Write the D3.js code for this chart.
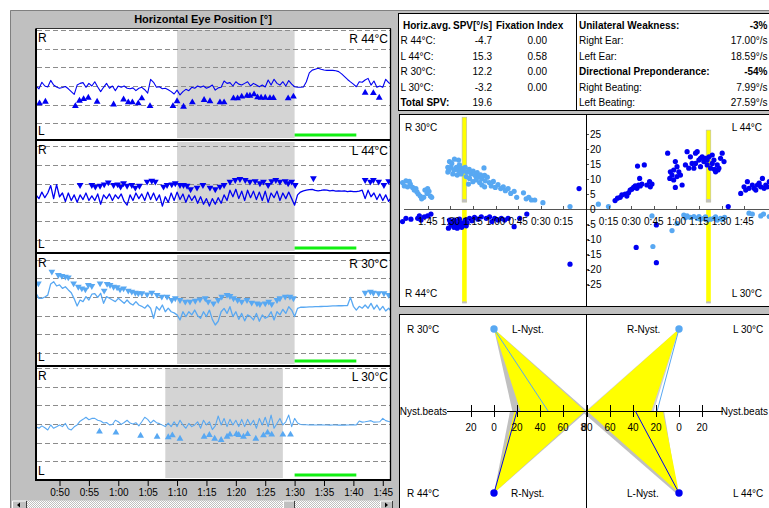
<!DOCTYPE html>
<html><head><meta charset="utf-8">
<script src="https://cdn.jsdelivr.net/npm/d3@7"></script>
<style>
body{margin:0;background:#fff;overflow:hidden}
svg{display:block;font-family:"Liberation Sans",Arial,sans-serif}
</style></head><body>
<svg id="c" width="769" height="508"></svg>
<script>
// ---------------- DATA ----------------
const chartTitle = "Horizontal Eye Position [°]";
const panelLabels = ["R 44°C", "L 44°C", "R 30°C", "L 30°C"];
const timeStart = 46, timeStep = 0.5;            // trace sampling (s)
const timeTicks = [50,55,60,65,70,75,80,85,90,95,100,105];
const yTicks = [30,20,10,0,-10,-20,-30];
const shadeWindows = [[70,90],[70,90],[70,90],[68,88]];   // culmination window
const heatWindows  = [[90,100.5],[90,100.5],[90,100.5],[90,100.5]]; // green bar

const traceR44 = [0,-1.5,2.0,0,-0.5,3.0,0.5,-0.5,-1.2,-0.8,
 -0.3,-1.5,-3.0,-4.5,0.5,1.4,1.8,-0.7,1.4,0,
 2.3,-0.5,-3.0,-0.7,1.4,-1.2,0,-2.5,0,-0.7,
 0,-1.2,-1.5,-1.0,-2.5,-1.2,-0.7,-2.0,-3.8,3.6,
 2.0,-0.7,-0.4,-1.5,-1.2,-2.0,-3.0,-4.3,-2.2,-4.8,
 -3.0,-1.8,-2.5,-0.7,-1.2,0,-0.7,0,-1.2,-0.5,
 0.5,-2.2,-1.0,-0.7,2.7,1.4,1.8,0,2.3,1.0,
 0.5,1.4,2.3,0,1.4,0.5,-0.4,0.5,-0.5,3.2,
 0.5,3.6,1.4,0.5,2.3,0,2.9,1.0,-0.4,-0.7,
 -0.7,-0.5,2.3,7.0,8.5,9.0,9.5,9.0,8.6,8.4,
 8.4,8.4,8.2,7.7,6.5,5.0,3.5,2.2,1.0,-0.4,
 2.3,2.0,3.2,4.1,0.5,2.7,-0.7,0,-0.7,3.6,
 1.8,1.0];
const traceL44 = [-6,-8,-4.5,-7.5,-5,-1,-8,-0.5,-7,-5,
 -9.5,-5,-9,-6,-10,-6,-8.5,-5,-9,-6.5,
 -9,-5.5,-11,-6,-8,-5.5,-9,-6,-8,-5.5,
 -9.5,-11.5,-6,-9,-5,-8,-5.5,-9,-4.5,-8.5,
 -5,-9,-6,-12,-7,-10,-5,-9,-4.5,-8.5,
 -5.5,-10,-6,-9,-6.5,-10.5,-7,-11,-8,-12,
 -8,-11,-7.5,-10.5,-6,-9,-3.5,-7,-3,-8,
 -4,-9,-3.5,-7.5,-4,-8.5,-4.5,-9,-4,-10,
 -5,-7.5,-4,-9,-5,-8,-4.5,-8,-11.5,-6,
 -4.5,-3.8,-3.5,-3.2,-3.0,-3.6,-3.8,-3.6,-3.3,-3.5,
 -3.8,-3.6,-4.0,-3.8,-4.0,-3.9,-4.2,-4.0,-4.3,-4.2,
 -4.0,-3.5,-8,-3.5,-7,-5,-8.5,-5.5,-9,-6,
 -9.5,-7];
const traceR30 = [2,-0.7,-0.7,0,1,7,8.2,5.9,6.5,4.6,
 5.5,3.8,2.3,-1,-4.8,-1.6,-2.5,0.2,-1.6,1.5,
 1.8,-0.2,2.0,-3.4,0.2,-0.7,-1.6,-2.5,-0.7,-2.0,
 -3.4,-1.6,-3.4,-4.3,-2.5,-4.3,-5.0,-6.0,-4.3,-6.0,
 -11.4,-5.2,-7.0,-4.3,-7.9,-6.0,-7.9,-8.5,-9.6,-12.3,
 -7.9,-10.5,-7.9,-9.6,-7.0,-10.0,-11.4,-7.9,-10.5,-7.0,
 -12.0,-15.0,-13.0,-7.9,-6.1,-8.8,-5.2,-10.5,-7.9,-12.0,
 -8.8,-12.8,-9.6,-10.5,-12.3,-8.8,-13.0,-9.6,-11.4,-10.5,
 -7.9,-12.3,-7.9,-9.6,-6.6,-8.8,-5.2,-7.0,-10.5,-6.1,
 -5.5,-5.5,-5.4,-5.3,-5.3,-5.2,-5.2,-5.1,-5.0,-5.0,
 -4.9,-4.8,-4.8,-4.7,-4.7,-4.6,-4.6,-0.2,-5.0,-7.0,
 -5.0,-6.0,-4.3,-6.0,-3.4,-6.5,-4.3,-7.0,-5.0,-7.5,
 -6.0,-8.0];
const traceL30 = [-1.4,-2.3,-1.0,-2.0,-3.2,-0.5,-2.3,-1.5,-0.5,-1.4,
 0.3,-2.5,-3.2,-1.5,-0.5,1.5,2.5,3.6,2.3,3.0,
 3.0,2.0,1.6,0.5,0.8,-0.5,-0.3,2.0,1.2,-0.2,
 0.8,2.0,0.5,0,0.7,-1.0,1.2,3.6,2.5,0.5,
 2.0,0.7,0.2,-0.6,-1.4,0.5,-1.4,1.2,-1.4,2.0,
 -0.5,-2.3,0.3,-1.4,-0.5,1.2,-2.3,2.0,-0.5,1.2,
 -3.0,-1.0,4.3,-0.5,3.0,-1.4,2.5,-0.5,2.0,-1.4,
 2.5,-1.4,2.5,-0.5,2.0,-2.3,3.0,-0.5,3.6,-1.4,
 4.8,-2.3,0.3,3.0,-0.5,1.2,4.8,-1.4,3.0,0.5,
 -0.3,-0.4,-0.4,-0.5,-0.4,-0.5,-0.5,-0.4,-0.5,-0.5,
 -0.6,-0.5,-0.5,-0.6,-0.5,-0.6,-0.5,-0.5,-0.4,-0.5,
 1.6,1.0,1.2,1.5,1.8,1.0,1.1,1.2,3.0,1.8,
 1.3,1.0];

// nystagmus beat markers [time s, value °]
const beatsR44 = [[46.6,-9.3],[47.6,-8.4],[52.7,-10.8],[53.4,-7.9],[54.1,-7.0],[54.9,-6.3],[56.4,-8.4],[59.2,-9.9],[60.9,-7.2],[61.7,-8.8],[62.4,-8.8],[63.4,-9.3],[64.0,-6.6],[65.4,-10.8],[69.3,-10.8],[70.0,-8.2],[71.1,-11.1],[72.6,-8.8],[74.6,-7.5],[75.6,-8.2],[77.3,-8.8],[78.0,-8.8],[79.6,-6.6],[80.3,-6.6],[81.0,-5.7],[81.9,-5.2],[82.4,-5.2],[83.1,-4.5],[83.7,-6.1],[84.3,-6.3],[85.0,-6.3],[85.8,-6.5],[86.4,-6.5],[88.9,-6.6],[89.8,-5.7],[102.0,-3.6],[103.4,-3.8],[104.4,-6.3]];
const beatsL44 = [[53.5,-0.7],[55.5,-0.7],[56.1,-1.6],[56.9,-1.1],[57.6,-0.4],[58.3,0.7],[59.2,-0.7],[59.9,-0.4],[60.4,-1.6],[60.9,0.2],[61.5,-1.1],[62.3,-0.7],[62.9,-2.1],[63.6,-1.1],[64.9,1.1],[65.7,1.6],[66.3,1.1],[67.7,-1.6],[68.3,-0.7],[69.1,-0.4],[69.7,0.2],[70.5,-0.7],[71.1,-0.7],[71.7,-1.1],[72.3,-3.0],[73.4,-2.1],[74.4,-0.7],[75.6,-2.1],[76.5,-3.0],[77.3,-1.6],[78.0,-0.7],[79.0,1.1],[79.9,2.0],[80.7,2.5],[81.6,2.0],[82.4,1.1],[83.3,1.4],[84.1,0.2],[84.7,1.1],[85.5,-0.7],[86.1,1.4],[86.8,2.0],[87.5,1.1],[88.4,1.4],[88.9,0.2],[89.5,1.1],[90.1,-0.7],[93.2,2.9],[102.0,2.0],[102.9,1.1],[103.4,2.0],[104.3,1.1],[105.2,-0.7],[106.0,1.4]];
const beatsR30 = [[46.4,7.3],[48.7,13.6],[49.8,11.8],[50.4,11.3],[51.0,10.9],[51.5,10.5],[52.4,7.3],[53.2,5.5],[53.8,4.6],[54.4,4.1],[54.9,6.4],[55.5,5.9],[56.9,7.3],[57.6,3.4],[58.1,7.0],[58.6,6.4],[59.2,5.5],[59.8,5.2],[60.3,4.1],[60.9,4.6],[61.7,3.4],[62.3,2.9],[62.9,2.3],[63.4,2.0],[64.0,2.0],[64.9,1.4],[65.7,2.3],[66.6,1.1],[67.4,0.2],[68.3,0.2],[69.1,-1.6],[69.7,-0.7],[70.5,-1.6],[71.4,-2.5],[72.2,-2.5],[73.1,-2.0],[73.9,-1.3],[74.8,-0.7],[75.3,-2.5],[76.2,-3.4],[77.0,-1.6],[77.6,0.2],[78.5,1.1],[79.0,0.5],[79.6,-0.7],[80.3,-1.6],[81.0,-2.5],[81.9,-1.6],[82.7,-3.0],[83.6,-3.4],[84.1,-3.8],[85.0,-3.4],[85.6,-2.5],[86.1,-3.8],[87.0,-1.6],[87.5,-0.7],[88.4,0.2],[89.2,0.2],[89.8,-0.7],[102.0,2.3],[102.9,2.9],[103.4,2.3],[104.3,2.0],[105.2,2.0],[106.0,1.1]];
const beatsL30 = [[56.8,-4.1],[59.6,-4.6],[63.8,-6.3],[66.6,-6.8],[68.5,-7.1],[69.2,-6.1],[70.5,-7.9],[74.6,-6.8],[75.5,-5.9],[76.4,-7.9],[77.5,-8.6],[78.5,-6.8],[79.0,-5.7],[80.1,-5.4],[80.5,-5.9],[81.3,-6.8],[82.0,-5.4],[83.4,-7.9],[84.7,-6.1],[85.4,-4.6],[86.1,-5.7],[88.0,-5.7],[89.3,-5.7]];

// table
const tableHeader = ["Horiz.avg.", "SPV[°/s]", "Fixation Index"];
const tableRows = ["R 44°C:", "L 44°C:", "R 30°C:", "L 30°C:"];
const spvValues = [-4.7, 15.3, 12.2, -3.2];
const fixationIndex = [0.00, 0.58, 0.00, 0.00];
const totalSPV = 19.6;
const summaryLabels = ["Unilateral Weakness:", "Right Ear:", "Left Ear:", "Directional Preponderance:", "Right Beating:", "Left Beating:"];
const summaryValues = ["-3%", "17.00°/s", "18.59°/s", "-54%", "7.99°/s", "27.59°/s"];
const summaryBold = [true, false, false, true, false, false];

// SPV scatter [time since start s, SPV °/s]
const spvR30 = [[121.8,8.9],[119.5,9.5],[117.3,9.3],[116.6,8.4],[120.6,7.8],[118.4,7.5],[115.1,7.3],[114,6.4],[112.2,5.8],[111.3,5.1],[110,4.4],[109.1,3.5],[107.7,4.0],[106.9,6.4],[105.1,6.9],[104.2,6.0],[105.5,5.3],[103.3,4.4],[102.4,4.0],[112.9,6.9],
 [90.6,15.9],[87.3,16.7],[84.6,16.4],[91.3,12.9],[89.5,14.0],[87.7,13.1],[86.0,14.0],[84.6,12.9],[82.9,13.7],[81.5,12.7],[80.2,14.0],[78.9,12.4],[77.5,13.3],[76.2,11.8],[74.9,12.7],[73.5,11.3],[72.2,12.2],[71.3,10.7],[70.0,11.5],[69.1,10.2],[67.7,13.8],[67.3,11.3],[66.9,9.5],[65.5,10.7],[64.2,8.9],[62.9,7.8],[61.5,9.3],[60.2,7.3],[58.4,8.2],[56.6,6.9],[54.9,7.5],[53.5,6.2],[51.7,6.9],[50.0,5.3],[47.7,6.0],[46.0,4.0],[41.5,5.5],[39.7,3.5],[38.0,4.0],[36.2,3.1],[34.0,3.1],[28.6,2.2],[10.6,0.9],
 [88.4,11.8],[85.5,11.4],[82.9,11.8],[79.5,10.9],[77.3,10.3],[75.1,9.2],[78.0,8.4],[72.9,9.8],[70.6,8.9],[69.1,8.1],[67.3,7.5],[91.7,14.0],[91.7,12.4],[89.1,15.3],[84.0,14.8]];
const spvR44 = [[121.8,-4.1],[119.5,-3.0],[116.2,-3.3],[111.7,-3.0],[109.5,-3.6],[107.3,-2.5],[105.1,-2.2],[102.9,-1.6],[110.6,-2.2],[91.3,-6.3],[89.5,-5.2],[87.7,-6.0],[86.2,-4.7],[84.6,-5.8],[83.3,-4.5],[81.7,-5.2],[80.2,-3.6],[78.9,-4.5],[77.3,-3.0],[75.7,-3.8],[74,-2.7],[71.7,-3.3],[69.5,-2.5],[66.2,-3.0],[64,-2.5],[62.4,-4.1],[60.6,-3.0],[58.4,-3.6],[56.2,-3.0],[54,-3.6],[51.7,-3.0],[47.7,-5.8],[44,-3.0],[39.3,-1.6],[90.6,-3.6],[87.3,-3.6],[84,-3.3],[88.5,-5.0],[85.5,-6.3],[82.5,-6.0],[80.9,-4.4],[79.5,-5.5],[86.9,-4.2],[90.0,-4.6],[4.6,6.9],[10.6,-18.3]];
const spvL44 = [[19.3,2.9],[20.9,3.7],[22.7,4.0],[23.8,4.8],[26,5.1],[27.1,4.4],[28.2,5.5],[29.3,6.4],[30.4,6.7],[31.6,7.3],[32.7,7.8],[33.8,7.0],[34.9,8.1],[36,7.8],[37.1,8.4],[34.2,14.4],[38.7,14.8],[35.6,10.3],[40.4,8.1],[42.2,9.2],[43.8,8.4],[42.7,7.5],
 [54.2,18.7],[59.3,15.9],[56,12.5],[57.1,11.4],[58.2,13.1],[60.4,14.2],[61.6,12.5],[62.7,11.4],[59.3,7.3],[63.8,8.1],[55.6,10.3],[60.4,10.9],[58.2,9.8],
 [66,14.8],[67.1,19.2],[69.3,17.5],[70.4,15.3],[71.6,13.7],[72.7,18.7],[73.8,19.2],[74.9,16.4],[76,14.2],[77.1,17.5],[78.2,15.9],[79.3,17],[80.4,14.8],[81.6,17.5],[82.7,13.7],[83.8,15.3],[84.9,16.4],[86,12.5],[87.1,14.8],[88.2,13.7],[89.3,17],[90.4,18.7],[91.6,15.9],[68.2,13.7],[72.7,15.3],[76,17],[83.8,18.1],[85.3,13.3],[87.6,13.1],[80.4,16.4],
 [94.4,0.9],
 [102.7,5.3],[104.9,7.5],[107.1,9.2],[108.2,7.0],[110.4,8.1],[112.7,6.4],[114.9,8.7],[117.1,10.3],[119.3,8.1],[121.6,9.2],[106,6.4],[111.6,7.0],[118.2,7.0],[116,7.5],[120.4,7.5],[113.8,8.1],
 [33.3,-12.7],[46.7,-5.2],[46.7,-17.8]];
const spvL30 = [[8.2,1.7],[14.9,0.9],[43.8,-2.2],[44.4,-12.4],[57.1,-7.1],[60.4,-4.7],[64.9,-1.9],[67.1,-2.2],[69.3,-2.7],[71.6,-2.4],[73.8,-3.0],[76,-3.3],[78.2,-3.0],[80.4,-3.6],[82.7,-3.3],[84.9,-3.0],[87.1,-3.6],[89.3,-3.0],[92,-2.7],[108.2,-1.3],[110.4,-1.6],[116,-2.2],[117.8,-1.6],[121.6,-2.4],[66,-2.8],[75,-2.4],[79.3,-2.5],[86,-2.5],[90.5,-3.4]];
const scatterTimeTicks = [15,30,45,60,75,90,105];
const scatterValueTicks = [25,20,15,10,5,0,-5,-10,-15,-20,-25];
const culminationR = {t: 80.7, upper: [2.4, 30.7], lower: [-31.2, 0]};
const culminationL = {t: 81.3, upper: [2.4, 26.4], lower: [-31.2, 0]};

// butterfly (Nyst. beats)
const bfTicks = [-20, 0, 20, 40, 60, 80];
const bfValues = {R30: 47, R44: 20, L30: 19, L44: 38};
const bfNormYellow = {LT: [23, 79], LB: [18, 79], RT: [24, 80], RB: [14, 80]};
const bfNormGray   = {LT: [16, 81], LB: [14, 81], RT: [22, 81], RB: [13, 83]};

// ---------------- DRAW ----------------
const C_DARK = "#0000f2", C_LIGHT = "#58a8f2", FRAME = "#c0c0c0";
const svg = d3.select("#c");
svg.append("rect").attr("width", 769).attr("height", 508).attr("fill", "#fff");
svg.append("rect").attr("x", 10).attr("y", 10).attr("width", 759).attr("height", 498).attr("fill", FRAME);
svg.append("path").attr("d", "M10.5,508V10.5H769").attr("stroke", "#808080").attr("fill", "none");
const defs = svg.append("defs");

svg.append("text").attr("x", 203).attr("y", 23).attr("text-anchor", "middle")
  .attr("font-size", 11).attr("font-weight", "bold").text(chartTitle);

const fmtTime = t => Math.floor(t / 60) + ":" + String(Math.round(t % 60)).padStart(2, "0");
const x = d3.scaleLinear().domain([46, 106.4]).range([36, 391]);
const layout = [
  {top: 29, bottom: 139, zero: 86},
  {top: 141, bottom: 252, zero: 183.7},
  {top: 254, bottom: 365, zero: 297},
  {top: 367, bottom: 479, zero: 424}];
const K = 1.865;
const panels = [
  {trace: traceR44, beats: beatsR44, color: C_DARK, up: true},
  {trace: traceL44, beats: beatsL44, color: C_DARK, up: false},
  {trace: traceR30, beats: beatsR30, color: C_LIGHT, up: false},
  {trace: traceL30, beats: beatsL30, color: C_LIGHT, up: true}];
const tri = d3.symbol().type(d3.symbolTriangle).size(20);

panels.forEach((p, i) => {
  const L = layout[i];
  const y = d3.scaleLinear().domain([(L.zero - L.top) / K, (L.zero - L.bottom) / K]).range([L.top, L.bottom]);
  const cid = "clip" + i;
  defs.append("clipPath").attr("id", cid).append("rect")
    .attr("x", 36).attr("y", L.top).attr("width", 355).attr("height", L.bottom - L.top);
  defs.append("clipPath").attr("id", cid + "a").append("rect")
    .attr("x", 0).attr("y", L.top - 0.5).attr("width", 40).attr("height", L.bottom - L.top + 1);
  const g = svg.append("g");
  g.append("rect").attr("x", 36).attr("y", L.top).attr("width", 355).attr("height", L.bottom - L.top).attr("fill", "#fff");
  const c = g.append("g").attr("clip-path", `url(#${cid})`);
  const sw = shadeWindows[i];
  c.append("rect").attr("x", x(sw[0])).attr("y", L.top + 1).attr("width", x(sw[1]) - x(sw[0]))
    .attr("height", L.bottom - L.top - 2).attr("fill", "#d4d4d4");
  const ticks = yTicks.filter(v => y(v) >= L.top - 2 && y(v) <= L.bottom);
  c.selectAll(".grid").data(ticks).join("line")
    .attr("x1", 37).attr("x2", 391).attr("y1", d => Math.round(y(d)) + 0.5).attr("y2", d => Math.round(y(d)) + 0.5)
    .attr("stroke", "#8c8c8c").attr("stroke-dasharray", "5,3");
  const hw = heatWindows[i];
  c.append("rect").attr("x", x(hw[0])).attr("y", L.bottom - 5.5).attr("width", x(hw[1]) - x(hw[0]))
    .attr("height", 3).attr("fill", "#12f012");
  const line = d3.line().x((d, j) => x(timeStart + j * timeStep)).y(d => y(d));
  c.append("path").attr("d", line(p.trace)).attr("fill", "none").attr("stroke", p.color)
    .attr("stroke-width", (i === 1 || i === 2) ? 1.3 : 1.1).attr("stroke-linejoin", "round");
  c.selectAll(".beat").data(p.beats).join("path")
    .attr("d", tri)
    .attr("transform", d => `translate(${x(d[0])},${y(d[1])})${p.up ? "" : " rotate(180)"}`)
    .attr("fill", p.color);
  // labels
  g.append("text").attr("x", 38).attr("y", L.top + 12.5).attr("font-size", 12).text("R");
  g.append("text").attr("x", 38).attr("y", L.bottom - 4).attr("font-size", 12).text("L");
  g.append("text").attr("x", 388).attr("y", L.top + 13.5).attr("font-size", 12).attr("text-anchor", "end").text(panelLabels[i]);
  // y axis
  const ax = g.append("g").attr("clip-path", `url(#${cid}a)`).attr("transform", "translate(35,0)")
    .call(d3.axisLeft(y).tickValues(ticks).tickSize(4).tickPadding(2));
  ax.select(".domain").remove();
  ax.selectAll("text").attr("font-size", 10.5).attr("font-family", "Liberation Sans, Arial, sans-serif").attr("fill", "#000");
  ax.selectAll("line").attr("stroke", "#000");
});
// panel borders
svg.append("line").attr("x1", 36).attr("x2", 391).attr("y1", 28.5).attr("y2", 28.5).attr("stroke", "#303030");
[139, 252, 365, 479].forEach(yy => svg.append("rect").attr("x", 35).attr("y", yy).attr("width", 356).attr("height", 2).attr("fill", "#000"));
svg.append("rect").attr("x", 35).attr("y", 28.5).attr("width", 2).attr("height", 452.5).attr("fill", "#000");
svg.append("line").attr("x1", 390.5).attr("x2", 390.5).attr("y1", 28.5).attr("y2", 481).attr("stroke", "#000").attr("stroke-width", 1.3);
// x axis
const xa = svg.append("g").attr("transform", "translate(0,481)")
  .call(d3.axisBottom(x).tickValues(timeTicks).tickSize(5).tickPadding(3).tickFormat(fmtTime));
xa.select(".domain").remove();
xa.selectAll("text").attr("font-size", 10).attr("font-family", "Liberation Sans, Arial, sans-serif").attr("fill", "#000");
xa.selectAll("line").attr("stroke", "#000");

// scrollbar
const pat = defs.append("pattern").attr("id", "chk").attr("width", 2).attr("height", 2).attr("patternUnits", "userSpaceOnUse");
pat.append("rect").attr("width", 2).attr("height", 2).attr("fill", "#fff");
pat.append("rect").attr("width", 1).attr("height", 1).attr("fill", "#c0c0c0");
pat.append("rect").attr("x", 1).attr("y", 1).attr("width", 1).attr("height", 1).attr("fill", "#c0c0c0");
svg.append("rect").attr("x", 27).attr("y", 500.5).attr("width", 353).attr("height", 8).attr("fill", "url(#chk)");
function btn(x0, w) {
  svg.append("rect").attr("x", x0).attr("y", 500.5).attr("width", w).attr("height", 9).attr("fill", FRAME);
  svg.append("path").attr("d", `M${x0 + 0.5},509V501H${x0 + w - 0.5}`).attr("stroke", "#fff").attr("fill", "none");
  svg.append("path").attr("d", `M${x0 + w - 0.5},501V509`).attr("stroke", "#404040").attr("fill", "none");
}
btn(12, 15); btn(283, 12); btn(380, 13);
svg.append("path").attr("d", "M17,505L20,502.5V507.5Z").attr("fill", "#000");
svg.append("path").attr("d", "M388,505L385,502.5V507.5Z").attr("fill", "#000");

// ---------- table ----------
const T = svg.append("g").attr("font-size", 10);
T.append("rect").attr("x", 398.5).attr("y", 13.5).attr("width", 380).attr("height", 97).attr("fill", "#fff").attr("stroke", "#000");
T.append("line").attr("x1", 576.5).attr("x2", 576.5).attr("y1", 13.5).attr("y2", 110.5).attr("stroke", "#000");
const rowY = [29, 44, 59.5, 75, 90.5, 106];
T.append("text").attr("x", 403).attr("y", rowY[0]).attr("font-weight", "bold").text(tableHeader[0]);
T.append("text").attr("x", 453).attr("y", rowY[0]).attr("font-weight", "bold").text(tableHeader[1]);
T.append("text").attr("x", 496).attr("y", rowY[0]).attr("font-weight", "bold").text(tableHeader[2]);
tableRows.forEach((r, i) => {
  T.append("text").attr("x", 400.5).attr("y", rowY[i + 1]).text(r);
  T.append("text").attr("x", 492).attr("y", rowY[i + 1]).attr("text-anchor", "end").text(spvValues[i].toFixed(1));
  T.append("text").attr("x", 547).attr("y", rowY[i + 1]).attr("text-anchor", "end").text(fixationIndex[i].toFixed(2));
});
T.append("text").attr("x", 400.5).attr("y", rowY[5]).attr("font-weight", "bold").text("Total SPV:");
T.append("text").attr("x", 492).attr("y", rowY[5]).attr("text-anchor", "end").text(totalSPV.toFixed(1));
summaryLabels.forEach((s, i) => {
  T.append("text").attr("x", 579).attr("y", rowY[i]).attr("font-weight", summaryBold[i] ? "bold" : "normal").text(s);
  T.append("text").attr("x", 767.5).attr("y", rowY[i]).attr("text-anchor", "end").attr("font-weight", summaryBold[i] ? "bold" : "normal").text(summaryValues[i]);
});

// ---------- SPV scatter ----------
const S = svg.append("g");
S.append("rect").attr("x", 399.5).attr("y", 114.5).attr("width", 380).attr("height", 192).attr("fill", "#fff").attr("stroke", "#000");
defs.append("clipPath").attr("id", "sclip").append("rect").attr("x", 400).attr("y", 115).attr("width", 369).attr("height", 191);
const sc = S.append("g").attr("clip-path", "url(#sclip)");
const xL = d3.scaleLinear().domain([0, 120]).range([586, 586 - 180.8]);
const xR = d3.scaleLinear().domain([0, 120]).range([586, 586 + 180.8]);
const yS = d3.scaleLinear().domain([0, 25]).range([209.3, 134.3]);
function culm(scale, cm) {
  const w = 4.6;
  sc.append("rect").attr("x", scale(cm.t) - w / 2).attr("y", yS(cm.upper[1])).attr("width", w)
    .attr("height", yS(cm.upper[0]) - yS(cm.upper[1])).attr("fill", "#ffff00").attr("stroke", "#b8b8b8").attr("stroke-width", 0.6);
  sc.append("rect").attr("x", scale(cm.t) - w / 2).attr("y", yS(cm.lower[1])).attr("width", w)
    .attr("height", yS(cm.lower[0]) - yS(cm.lower[1])).attr("fill", "#ffff00");
  sc.append("rect").attr("x", scale(cm.t) - w / 2).attr("y", yS(cm.upper[0]) - 3).attr("width", w).attr("height", 3).attr("fill", "#c0c0c0");
  sc.append("rect").attr("x", scale(cm.t) - w / 2).attr("y", yS(cm.lower[0]) - 1.5).attr("width", w).attr("height", 2).attr("fill", "#c0c0c0");
}
culm(xL, culminationR);
culm(xR, culminationL);
sc.append("line").attr("x1", 404).attr("x2", 769).attr("y1", 209.5).attr("y2", 209.5).attr("stroke", "#555");
const dots = (data, scale, color) => sc.append("g").selectAll("circle").data(data).join("circle")
  .attr("cx", d => scale(d[0])).attr("cy", d => yS(d[1])).attr("r", 2.6).attr("fill", color);
dots(spvR30, xL, C_LIGHT);
dots(spvL30, xR, C_LIGHT);
dots(spvR44, xL, C_DARK);
dots(spvL44, xR, C_DARK);
[xL, xR].forEach(scale => {
  sc.selectAll(null).data(scatterTimeTicks).join("line")
    .attr("x1", d => Math.round(scale(d)) + 0.5).attr("x2", d => Math.round(scale(d)) + 0.5)
    .attr("y1", 206).attr("y2", 209.5).attr("stroke", "#555");
  sc.selectAll(null).data(scatterTimeTicks).join("text")
    .attr("x", d => scale(d)).attr("y", 225).attr("text-anchor", "middle").attr("font-size", 10)
    .text(d => fmtTime(d));
});
sc.selectAll(null).data(scatterValueTicks).join("line")
  .attr("x1", 586).attr("x2", 589).attr("y1", d => Math.round(yS(d)) + 0.5).attr("y2", d => Math.round(yS(d)) + 0.5).attr("stroke", "#555");
sc.selectAll(null).data(scatterValueTicks).join("text")
  .attr("x", d => d < 0 ? 587 : 590).attr("y", d => yS(d) + 3.5).attr("font-size", 10)
  .text(d => d < 0 ? "-" + Math.abs(d) : d);
S.append("line").attr("x1", 586.5).attr("x2", 586.5).attr("y1", 114.5).attr("y2", 306.5).attr("stroke", "#000");
S.append("text").attr("x", 405).attr("y", 131).attr("font-size", 10).text(panelLabels[2]);
S.append("text").attr("x", 405).attr("y", 297).attr("font-size", 10).text(panelLabels[0]);
S.append("text").attr("x", 762).attr("y", 131).attr("font-size", 10).attr("text-anchor", "end").text(panelLabels[1]);
S.append("text").attr("x", 762).attr("y", 297).attr("font-size", 10).attr("text-anchor", "end").text(panelLabels[3]);

// ---------- butterfly ----------
const B = svg.append("g");
B.append("rect").attr("x", 399.5).attr("y", 314.5).attr("width", 380).attr("height", 200).attr("fill", "#fff").attr("stroke", "#000");
defs.append("clipPath").attr("id", "bclip").append("rect").attr("x", 400).attr("y", 315).attr("width", 369).attr("height", 193);
defs.append("clipPath").attr("id", "bclipL").append("rect").attr("x", 400).attr("y", 315).attr("width", 186).attr("height", 193);
const bc = B.append("g").attr("clip-path", "url(#bclip)");
const bcL = B.append("g").attr("clip-path", "url(#bclipL)");
const bL = d3.scaleLinear().domain([0, 80]).range([494, 586]);
const bR = d3.scaleLinear().domain([0, 80]).range([679, 587]);
const axY = 411, topY = 329, botY = 493;
function tri3(scale, py, rng, dy) {
  return [[scale(0), py], [scale(rng[0]), axY + (dy || 0)], [scale(rng[1]), axY + (dy || 0)]];
}
const poly = (pts, fill) => bc.append("path").attr("d", "M" + pts.map(p => p.join(",")).join("L") + "Z").attr("fill", fill);
poly(tri3(bL, topY, bfNormGray.LT), "#c0c0c0");
poly(tri3(bL, botY, bfNormGray.LB), "#c0c0c0");
poly(tri3(bR, topY, bfNormGray.RT), "#d0d0d0");
poly([[bR(0) - 1, botY + 2], [bR(bfNormGray.RB[0]), axY], [bR(bfNormGray.RB[1]), axY + 2]], "#c0c0c0");
poly(tri3(bL, topY, bfNormYellow.LT), "#ffff00");
poly(tri3(bL, botY, bfNormYellow.LB), "#ffff00");
poly(tri3(bR, topY, bfNormYellow.RT), "#ffff00");
poly(tri3(bR, botY, bfNormYellow.RB), "#ffff00");
// axes
bc.append("line").attr("x1", 447).attr("x2", 586).attr("y1", axY + 0.5).attr("y2", axY + 0.5).attr("stroke", "#000");
bc.append("line").attr("x1", 586).attr("x2", 723).attr("y1", axY + 0.5).attr("y2", axY + 0.5).attr("stroke", "#000");
[[bL, bcL], [bR, bc]].forEach(([scale, grp]) => {
  grp.selectAll(null).data(bfTicks).join("line")
    .attr("x1", d => Math.round(scale(d)) + 0.5).attr("x2", d => Math.round(scale(d)) + 0.5)
    .attr("y1", axY - 6).attr("y2", axY + 6).attr("stroke", "#000");
  grp.selectAll(null).data(bfTicks).join("text")
    .attr("x", d => scale(d)).attr("y", axY + 20).attr("text-anchor", "middle").attr("font-size", 10)
    .text(d => Math.abs(d));
});
bc.append("text").attr("x", 447).attr("y", axY + 4).attr("text-anchor", "end").attr("font-size", 10).text("Nyst.beats");
bc.append("text").attr("x", 768).attr("y", axY + 4).attr("text-anchor", "end").attr("font-size", 10).text("Nyst.beats");
// value lines
const vline = (scale, py, v, color) => bc.append("line").attr("x1", scale(0)).attr("y1", py)
  .attr("x2", scale(v)).attr("y2", axY).attr("stroke", color).attr("stroke-width", 1);
vline(bL, topY, bfValues.R30, C_LIGHT);
vline(bL, botY, bfValues.R44, C_DARK);
vline(bR, topY, bfValues.L30, C_LIGHT);
vline(bR, botY, bfValues.L44, C_DARK);
bc.append("circle").attr("cx", bL(0)).attr("cy", topY).attr("r", 3.7).attr("fill", C_LIGHT);
bc.append("circle").attr("cx", bL(0)).attr("cy", botY).attr("r", 3.7).attr("fill", C_DARK);
bc.append("circle").attr("cx", bR(0)).attr("cy", topY).attr("r", 3.7).attr("fill", C_LIGHT);
bc.append("circle").attr("cx", bR(0)).attr("cy", botY).attr("r", 3.7).attr("fill", C_DARK);
const bt = (xx, yy, t, anchor) => bc.append("text").attr("x", xx).attr("y", yy).attr("font-size", 10)
  .attr("text-anchor", anchor || "start").text(t);
bt(407, topY + 4, panelLabels[2]); bt(512, topY + 4, "L-Nyst.");
bt(407, botY + 4, panelLabels[0]); bt(511, botY + 4, "R-Nyst.");
bt(627, topY + 4, "R-Nyst."); bt(733, topY + 4, panelLabels[3]);
bt(627, botY + 4, "L-Nyst."); bt(733, botY + 4, panelLabels[1]);
B.append("line").attr("x1", 586.5).attr("x2", 586.5).attr("y1", 314.5).attr("y2", 508).attr("stroke", "#000");
</script></body></html>
